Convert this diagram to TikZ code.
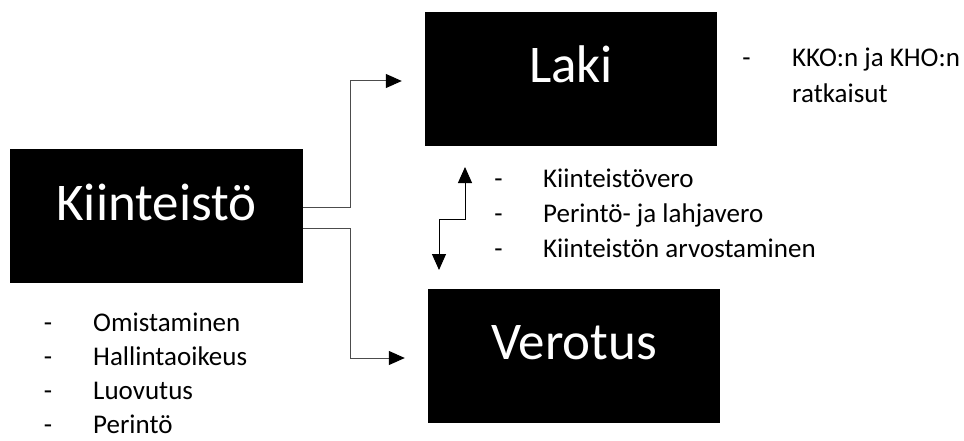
\documentclass[tikz,border=0pt]{standalone}
\usepackage{fontspec}
\setmainfont{Carlito}
\usetikzlibrary{arrows.meta}
\begin{document}
\begin{tikzpicture}[x=1pt,y=-1pt,
  bigbox/.style={fill=black, text=white, inner sep=0pt, minimum width=292pt,
    text height=71pt, text depth=63pt, font=\fontsize{53pt}{60pt}\selectfont},
  itemtext/.style={anchor=base west, inner sep=0pt, font=\fontsize{27pt}{30pt}\selectfont},
  itemdash/.style={anchor=base, inner sep=0pt, font=\fontsize{27pt}{30pt}\selectfont},
  conn/.style={draw=black!70, line width=1pt,
    -{Triangle[length=16pt,width=14pt,color=black]}},
  dconn/.style={draw=black, line width=1pt,
    {Triangle[length=16pt,width=14pt]}-{Triangle[length=16pt,width=14pt]}}
]
\useasboundingbox (0,0) rectangle (964,441);

\node[bigbox, minimum width=293pt] (k) at (156.5,216) {Kiinteistö};
\node[bigbox] (laki) at (571,79) {Laki};
\node[bigbox] (vero) at (574,355.5) {Verotus};

\draw[conn] ([yshift=9pt]k.east) -- ++(47,0) |- ([xshift=-23pt,yshift=-2pt]laki.west);
\draw[conn] ([yshift=-12pt]k.east) -- ++(47,0) |- ([xshift=-23pt,yshift=-2.5pt]vero.west);

\coordinate (dtop) at (465,167);
\coordinate (dbot) at (439,270);
\draw[dconn] (dtop) -- ++(0,52) -| (dbot);

% left list
\node[itemdash] (d1) at (48,331) {-};
\node[itemtext] (t1) at (93,331) {Omistaminen};
\node[itemdash] (d2) at (48,365) {-};
\node[itemtext] (t2) at (93,365) {Hallintaoikeus};
\node[itemdash] (d3) at (48,399) {-};
\node[itemtext] (t3) at (93,399) {Luovutus};
\node[itemdash] (d4) at (48,433) {-};
\node[itemtext] (t4) at (93,433) {Perintö};

% middle list
\node[itemdash] (m1d) at (498.5,187) {-};
\node[itemtext] (m1) at (543,187) {Kiinteistövero};
\node[itemdash] (m2d) at (498.5,222) {-};
\node[itemtext] (m2) at (543,222) {Perintö- ja lahjavero};
\node[itemdash] (m3d) at (498.5,257) {-};
\node[itemtext] (m3) at (543,257) {Kiinteistön arvostaminen};

% right list
\node[itemdash] (r1d) at (746.5,67) {-};
\node[itemtext] (r1) at (792,67) {KKO:n ja KHO:n};
\node[itemtext] (r2) at (792,103) {ratkaisut};
\end{tikzpicture}
\end{document}
